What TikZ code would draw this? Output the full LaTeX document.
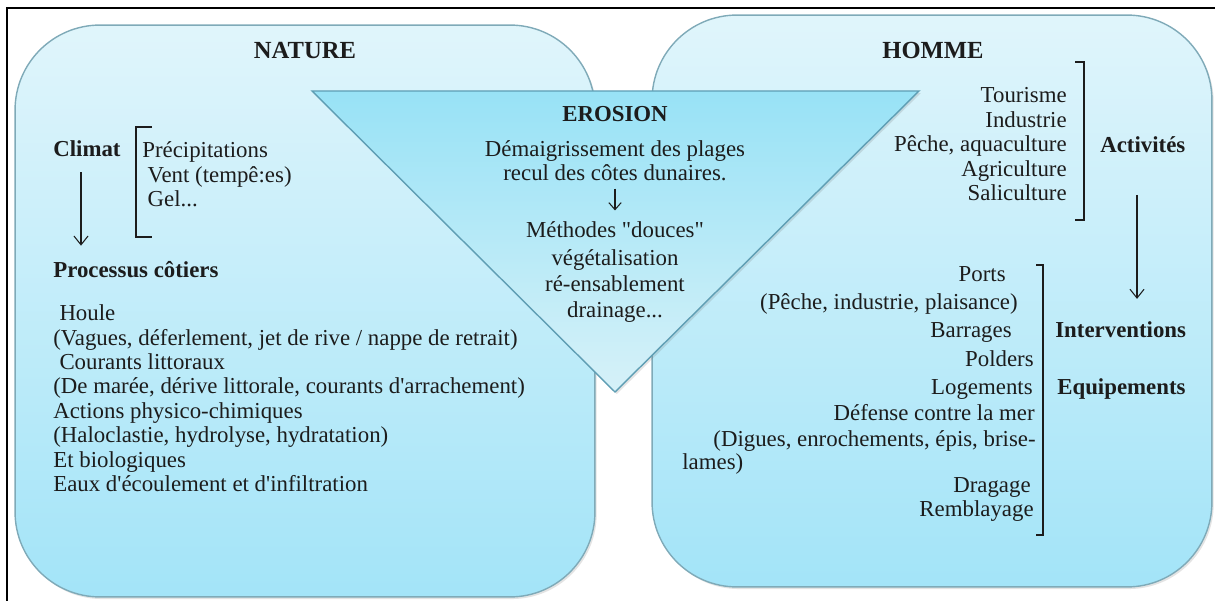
\documentclass[tikz,border=0pt]{standalone}
\usepackage{fontspec}
\setmainfont{Liberation Serif}[Ligatures=TeXOff]
\usetikzlibrary{arrows.meta, shadows}

\definecolor{paneltop}{HTML}{E0F5FB}
\definecolor{panelbot}{HTML}{A3E4F8}
\definecolor{panelline}{HTML}{7FAAB8}
\definecolor{funneltop}{HTML}{98E2F6}
\definecolor{funnelbot}{HTML}{D6F1F8}
\definecolor{funnelline}{HTML}{5F9EB4}
\definecolor{ink}{HTML}{1C1C1C}

\begin{document}
\begin{tikzpicture}[
    x=0.02cm, y=-0.02cm,
    panel/.style={draw=panelline, line width=0.8pt, rounded corners=1.7cm, top color=paneltop, bottom color=panelbot, inner sep=0pt,
        drop shadow={shadow xshift=1pt, shadow yshift=-1.2pt, opacity=0.18, fill=black!60}},
    funnel/.style={draw=funnelline, line width=0.8pt, top color=funneltop, bottom color=funnelbot,
        drop shadow={shadow xshift=1pt, shadow yshift=-1.2pt, opacity=0.18, fill=black!60}},
    txt/.style={inner sep=0pt, text=ink, font=\fontsize{13}{13.9}\selectfont},
    lbl/.style={txt, font=\fontsize{13}{13.9}\selectfont\bfseries},
    title/.style={txt, font=\fontsize{14}{16}\selectfont\bfseries},
    brk/.style={draw=ink, line width=0.7pt},
    arr/.style={draw=ink, line width=0.6pt, -{Straight Barb[length=5pt, width=8pt]}}
]
    \useasboundingbox (0,0) rectangle (1215,601);
    \draw[line width=1.2pt] (7,601) |- (1215,8);

    % Panels
    \node[panel, minimum width=11.6cm, minimum height=11.44cm] (nature) at (305,311) {};
    \node[panel, minimum width=11.2cm, minimum height=11.44cm] (homme) at (932,301) {};
    \draw[funnel] (312,91) -- (919,91) -- (615,392) -- cycle;

    \node[title] (natureTitle) at (305,50) {NATURE};
    \node[title] (hommeTitle) at (933,50) {HOMME};

    % Nature
    \node[lbl, anchor=mid west] (climat) at (53,152) {Climat};
    \node[txt, anchor=north west, align=left] (meteo) at (142,141.5) {Précipitations\\ \hspace*{3pt}Vent (tempê:es)\\ \hspace*{3pt}Gel...};
    \node[lbl, anchor=mid west] (processus) at (53,273) {Processus côtiers};
    \node[txt, anchor=north west, align=left] (processList) at (53,304.5) {\hspace*{3.5pt}Houle\\
        (Vagues, déferlement, jet de rive / nappe de retrait)\\
        \hspace*{3.5pt}Courants littoraux\\
        (De marée, dérive littorale, courants d'arrachement)\\
        Actions physico-chimiques\\
        (Haloclastie, hydrolyse, hydratation)\\
        Et biologiques\\
        Eaux d'écoulement et d'infiltration};

    % Erosion
    \node[txt, anchor=north, align=center] (erosion) at (615,106) {\textbf{EROSION}\\[6pt]
        Démaigrissement des plages\\
        recul des côtes dunaires.};
    \node[txt, anchor=north, align=center] (methodes) at (615,221) {Méthodes "douces"\\[2pt]
        végétalisation\\[1pt]
        ré-ensablement\\[1pt]
        drainage...};

    % Homme
    \node[txt, anchor=north east, align=right] (activList) at (1067,87.5) {Tourisme\\ Industrie\\ Pêche, aquaculture\\ Agriculture\\ Saliculture};
    \node[lbl, anchor=mid west] (activites) at (1100,148) {Activités};
    \node[lbl, anchor=mid west] (interv) at (1055,333) {Interventions};
    \node[lbl, anchor=mid west] (equip) at (1057,390) {Equipements};

    \node[txt, anchor=mid east] (ports) at (1006,277) {Ports};
    \node[txt, anchor=mid east] (portsType) at (1018,305) {(Pêche, industrie, plaisance)};
    \node[txt, anchor=mid east] (barrages) at (1012,333) {Barrages};
    \node[txt, anchor=mid east] (polders) at (1034,362) {Polders};
    \node[txt, anchor=mid east] (logements) at (1033,390) {Logements};
    \node[txt, anchor=mid east] (defense) at (1035,416) {Défense contre la mer};
    \node[txt, anchor=mid east] (digues) at (1036,442) {(Digues, enrochements, épis, brise-};
    \node[txt, anchor=mid west] (lames) at (682,465) {lames)};
    \node[txt, anchor=mid east] (dragage) at (1031,488) {Dragage};
    \node[txt, anchor=mid east] (remblayage) at (1034,512) {Remblayage};

    % Brackets
    \draw[brk] (152,127) -| (136,237) -- (152,237);
    \draw[brk] (1075,62) -| (1084,220) -- (1075,220);
    \draw[brk] (1036,265) -| (1043,535) -- (1036,535);

    % Arrows
    \draw[arr, shorten <=9pt, shorten >=8.5pt] (climat.south -| 81,0) -- (processus.north -| 81,0);
    \draw[arr, shorten <=24pt, shorten >=12.5pt] (activites.south -| 1137,0) -- (interv.north -| 1137,0);
    \draw[arr, -{Straight Barb[length=4pt, width=7pt]}, shorten <=4pt, shorten >=6pt] (erosion.south) -- (methodes.north);
\end{tikzpicture}
\end{document}
